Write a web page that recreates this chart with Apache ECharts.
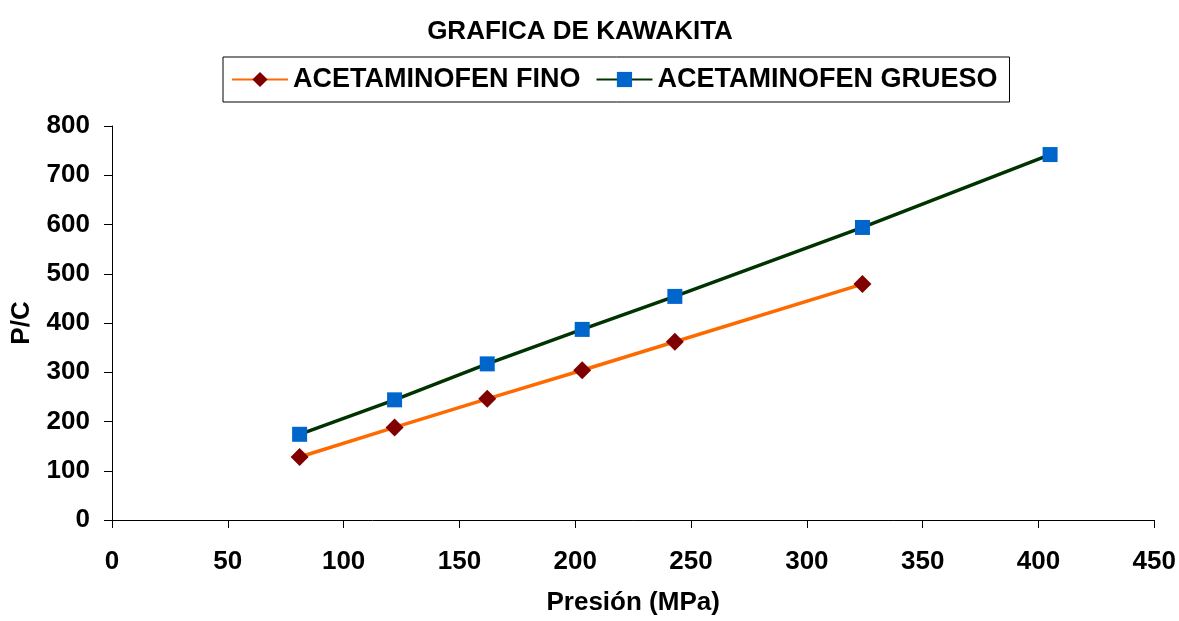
<!DOCTYPE html>
<html><head><meta charset="utf-8">
<script src="https://cdn.jsdelivr.net/npm/echarts@6/dist/echarts.min.js"></script>
<style>html,body{margin:0;padding:0;background:#fff}#c{width:1179px;height:621px}</style>
</head><body><div id="c"></div>
<script>
const presion = [81, 122, 162, 203, 243, 324, 405];
const finoPC = [128, 188, 246, 304, 362, 479];
const gruesoPC = [174, 244, 317, 387, 454, 594, 742];
const xTicks = [0, 50, 100, 150, 200, 250, 300, 350, 400, 450];
const yTicks = [0, 100, 200, 300, 400, 500, 600, 700, 800];

const F = 'Liberation Sans, Arial, sans-serif';
const chart = echarts.init(document.getElementById('c'));
chart.setOption({
  animation: false,
  title: { text: 'GRAFICA DE KAWAKITA', left: 575, top: 14, textAlign: 'center',
    textStyle: { fontFamily: F, fontWeight: 'bold', fontSize: 26, color: '#000' } },
  legend: {
    left: 223, top: 57,
    borderColor: '#000', borderWidth: 1, padding: [9, 12, 9, 8],
    itemWidth: 56, itemHeight: 19, itemGap: 15,
    textStyle: { fontFamily: F, fontWeight: 'bold', fontSize: 27, color: '#000' },
    data: ['ACETAMINOFEN FINO', 'ACETAMINOFEN GRUESO']
  },
  grid: { left: 112, right: 23, top: 126, bottom: 95 },
  xAxis: {
    type: 'value', min: xTicks[0], max: xTicks[xTicks.length - 1], interval: 50,
    name: 'Presión (MPa)', nameLocation: 'middle', nameGap: 70,
    nameTextStyle: { fontFamily: F, fontWeight: 'bold', fontSize: 26, color: '#000' },
    axisLine: { lineStyle: { color: '#000', width: 1 } },
    axisTick: { show: true, length: 8, lineStyle: { color: '#000' } },
    axisLabel: { margin: 29, fontFamily: F, fontWeight: 'bold', fontSize: 26, color: '#000' },
    splitLine: { show: false }
  },
  yAxis: {
    type: 'value', min: yTicks[0], max: yTicks[yTicks.length - 1], interval: 100,
    name: 'P/C', nameLocation: 'middle', nameGap: 77, nameRotate: 90,
    nameTextStyle: { fontFamily: F, fontWeight: 'bold', fontSize: 26, color: '#000' },
    axisLine: { show: true, lineStyle: { color: '#000', width: 1 } },
    axisTick: { show: true, length: 8, lineStyle: { color: '#000' } },
    axisLabel: { margin: 22, fontFamily: F, fontWeight: 'bold', fontSize: 26, color: '#000' },
    splitLine: { show: false }
  },
  series: [
    { name: 'ACETAMINOFEN FINO', type: 'line',
      data: finoPC.map((v, i) => [presion[i], v]),
      symbol: 'diamond', symbolSize: 18,
      lineStyle: { color: '#FF6A00', width: 3.5 },
      itemStyle: { color: '#800000' } },
    { name: 'ACETAMINOFEN GRUESO', type: 'line',
      data: gruesoPC.map((v, i) => [presion[i], v]),
      symbol: 'rect', symbolSize: 15,
      lineStyle: { color: '#003300', width: 3.5 },
      itemStyle: { color: '#0066CC' } }
  ]
});
</script></body></html>
